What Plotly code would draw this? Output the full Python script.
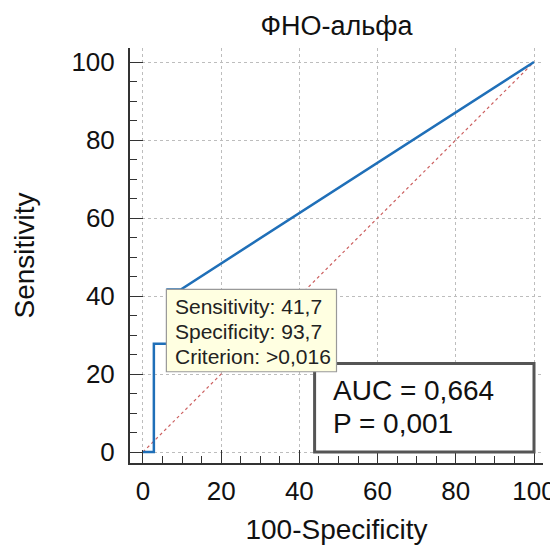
import plotly.graph_objects as go

# ROC curve data (100-Specificity, Sensitivity)
roc_x = [0, 2.8, 2.8, 6.3, 6.3, 9.7, 100]
roc_y = [0, 0, 27.8, 27.8, 41.7, 41.7, 100]
diag_x = [0, 100]
diag_y = [0, 100]
tick_vals = [0, 20, 40, 60, 80, 100]
tick_text = ["0", "20", "40", "60", "80", "100"]
tooltip_lines = ["Sensitivity: 41,7", "Specificity: 93,7", "Criterion: >0,016"]
auc_lines = ["AUC = 0,664", "P = 0,001"]
title_text = "ФНО-альфа"

FONT = "Liberation Sans, Arial, sans-serif"

fig = go.Figure()
fig.add_trace(go.Scatter(x=diag_x, y=diag_y, mode="lines",
                         line=dict(color="#cc6060", width=1.2, dash="dot"),
                         hoverinfo="skip", showlegend=False))
fig.add_trace(go.Scatter(x=roc_x, y=roc_y, mode="lines",
                         line=dict(color="#1f6fb8", width=2.5),
                         showlegend=False))

axis_common = dict(
    tickvals=tick_vals, ticktext=tick_text,
    ticks="inside", ticklen=13, tickwidth=1, tickcolor="#333",
    minor=dict(dtick=5, ticks="inside", ticklen=7, tickwidth=1, tickcolor="#333", showgrid=False),
    showline=True, linecolor="#333", linewidth=2,
    showgrid=True, gridcolor="#bdbdbd", gridwidth=1, griddash="dot",
    zeroline=False, automargin=False,
    tickfont=dict(family=FONT, size=26, color="#111"),
    title_font=dict(family=FONT, size=28, color="#111"),
)

fig.update_xaxes(range=[-3.3, 102.3], title_text="100-Specificity", title_standoff=14,
                 ticklabelstandoff=4, **axis_common)
fig.update_yaxes(range=[-2.8, 103.6], title_text="Sensitivity", title_standoff=29,
                 ticklabelstandoff=8, **axis_common)

# AUC box (drawn first, under tooltip)
fig.add_shape(type="rect", xref="x", yref="y", x0=43.9, x1=100, y0=0, y1=22.7,
              line=dict(color="#555", width=3), fillcolor="white", layer="above")
# tooltip
fig.add_shape(type="rect", xref="x", yref="y", x0=6.0, x1=49.5, y0=20.6, y1=41.7,
              line=dict(color="#999", width=1.2), fillcolor="#ffffe1", layer="above")

for i, t in enumerate(tooltip_lines):
    fig.add_annotation(x=7.8, y=37.4 - i * 6.4, xref="x", yref="y", text=t,
                       showarrow=False, xanchor="left", yanchor="middle",
                       font=dict(family=FONT, size=21, color="#222"))
for i, t in enumerate(auc_lines):
    fig.add_annotation(x=48.0, y=15.9 - i * 8.5, xref="x", yref="y", text=t,
                       showarrow=False, xanchor="left", yanchor="middle",
                       font=dict(family=FONT, size=28, color="#111"))

# page body has an 8px margin, so the figure is sized to fit the 558x550 window
fig.update_layout(
    width=550, height=542,
    margin=dict(l=122, r=15, t=40, b=87),
    paper_bgcolor="white", plot_bgcolor="white",
    title=dict(text=title_text, x=0.5, xref="paper", y=0.967, yanchor="middle",
               font=dict(family=FONT, size=27, color="#111")),
)

fig.write_html("out.html")
